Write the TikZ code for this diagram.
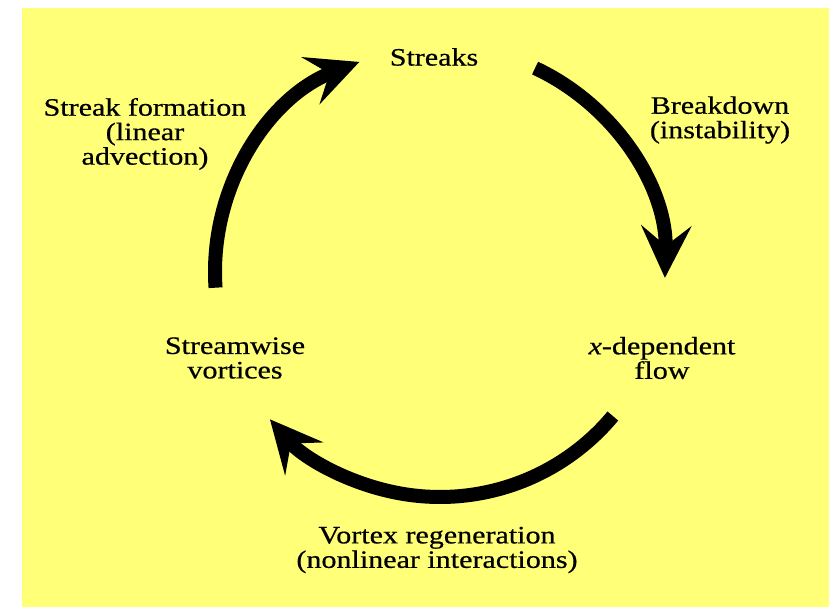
\documentclass[tikz,border=0pt]{standalone}
\usepackage{fontspec}
\setmainfont{Liberation Serif}[FakeStretch=1.2,FakeBold=0.6]
\usetikzlibrary{arrows.meta}

\definecolor{paper}{RGB}{255,255,120}

\tikzset{
  stage/.style={align=center, inner sep=0pt, font=\fontsize{17.8}{17.4}\selectfont},
  cyclearrow/.style={line width=0.35cm, line cap=butt,
    -{Stealth[length=1.3cm,width=1.25cm,inset=0.5cm]}}
}

\begin{document}
\begin{tikzpicture}[x=0.025cm,y=0.025cm]
  \useasboundingbox (0,0) rectangle (829,606);
  % Yellow sheet
  \fill[paper] (22,-2) rectangle (831,598);

  % Centre of the cycle
  \coordinate (c) at (440,334);

  % States and processes
  \node[stage] (streaks)   at (434,549) {Streaks};
  \node[stage] (formation) at (145,472) {Streak formation\\(linear\\advection)};
  \node[stage] (breakdown) at (720,486) {Breakdown\\(instability)};
  \node[stage] (xflow)     at (662,248) {\textit{x}-dependent\\flow};
  \node[stage] (vortices)  at (235,248) {Streamwise\\vortices};
  \node[stage] (regen)     at (437,56)  {Vortex regeneration\\(nonlinear interactions)};

  % Three arrows round the cycle
  \foreach \from/\to in {184/111, 65/-1.5, -39.8/-139.1} {
    \draw[cyclearrow] ([shift={(\from:225)}]c) arc (\from:\to:225);
  }
\end{tikzpicture}
\end{document}
